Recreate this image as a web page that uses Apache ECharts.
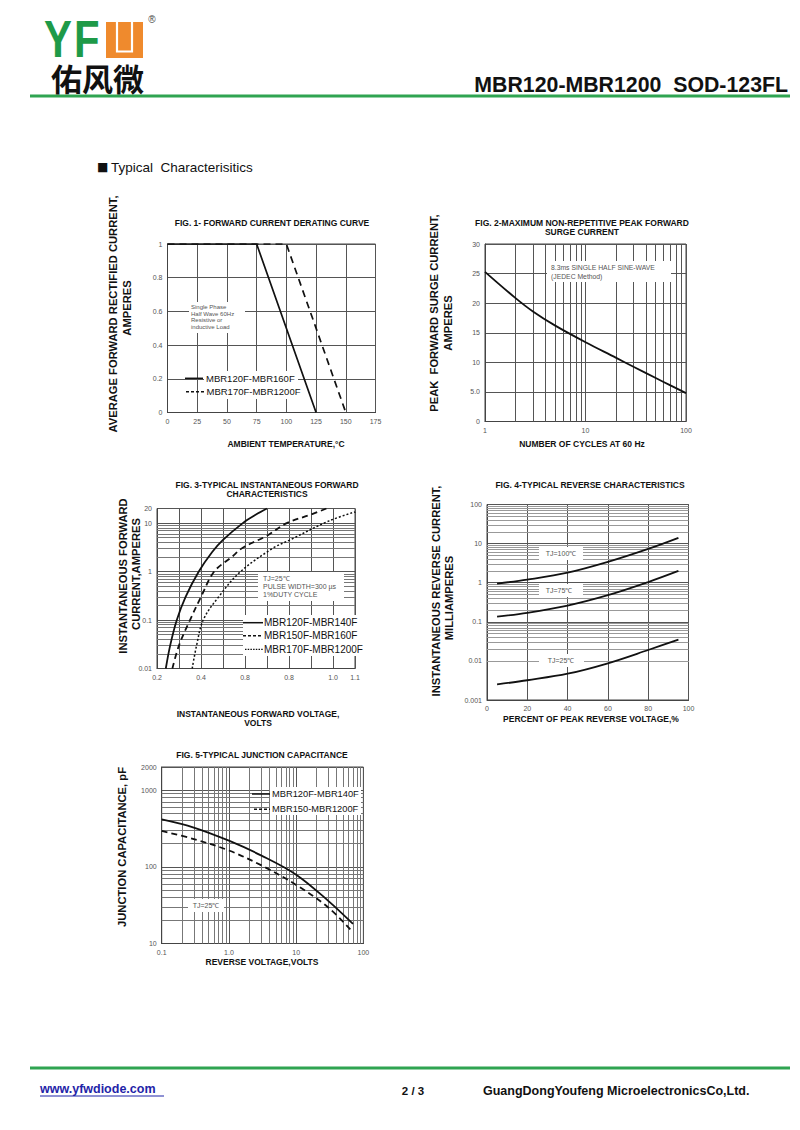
<!DOCTYPE html>
<html><head><meta charset="utf-8">
<script src="https://cdn.jsdelivr.net/npm/echarts@6/dist/echarts.min.js"></script>
<style>html,body{margin:0;padding:0;background:#fff}#c{width:800px;height:1130px}</style>
</head><body><div id="c"></div>
<script>
// ---------- DATA ----------
// Fig 1 derating
const derTempA = [0, 75, 125];
const derAmpA  = [1, 1, 0];
const derTempB = [0, 100, 150];
const derAmpB  = [1, 1, 0];
// Fig 2 surge
const surgeCycles = [1, 2, 3, 5, 10, 20, 30, 50, 70, 100];
const surgeAmps   = [25.3, 20.9, 18.6, 16.2, 13.4, 10.8, 9.25, 7.35, 6.1, 4.8];
const surgeXMinor = [2,3,4,5,6,7,8,9,20,30,40,50,60,70,80,90];
// Fig 3 forward characteristics
const fwdV1 = [0.24, 0.26, 0.29, 0.33, 0.39, 0.45, 0.50, 0.59, 0.65, 0.70];
const fwdI1 = [0.01, 0.03, 0.1, 0.3, 1, 2.5, 4.5, 10, 15, 20];
const fwdV2 = [0.27, 0.30, 0.35, 0.40, 0.46, 0.54, 0.59, 0.70, 0.79, 0.90, 0.97];
const fwdI2 = [0.01, 0.03, 0.1, 0.3, 1, 2, 3.1, 5.5, 10, 15, 20];
const fwdV3 = [0.36, 0.38, 0.41, 0.48, 0.58, 0.73, 0.80, 0.98, 1.10];
const fwdI3 = [0.01, 0.03, 0.1, 0.3, 1, 3.1, 4.4, 11, 17];
const fwdVTickLabels = ["0.2","","0.4","","0.8","","0.8","","1.0","1.1"];
const fwdYMinor = [0.02,0.03,0.04,0.05,0.06,0.07,0.08,0.09,0.2,0.3,0.4,0.5,0.6,0.7,0.8,0.9,2,3,4,5,6,7,8,9];
// Fig 4 reverse characteristics
const revPct  = [5, 20, 40, 60, 80, 95];
const rev100  = [0.95, 1.2, 1.8, 3.4, 7.3, 14];
const rev75   = [0.135, 0.17, 0.26, 0.48, 1.04, 2.0];
const rev25   = [0.0025, 0.0032, 0.0047, 0.0087, 0.019, 0.035];
const revYMinor = [0.002,0.003,0.004,0.005,0.006,0.007,0.008,0.009,0.02,0.03,0.04,0.05,0.06,0.07,0.08,0.09,0.2,0.3,0.4,0.5,0.6,0.7,0.8,0.9,2,3,4,5,6,7,8,9,20,30,40,50,60,70,80,90];
// Fig 5 junction capacitance
const capV      = [0.1, 0.3, 1, 3, 10, 30, 70];
const capSolid  = [414, 325, 219, 141, 79, 36, 18];
const capDashed = [293, 230, 163, 105, 58, 29.5, 14];
const capXMinor = [0.2,0.3,0.4,0.5,0.6,0.7,0.8,0.9,2,3,4,5,6,7,8,9,20,30,40,50,60,70,80,90];
const capYMinor = [20,30,40,50,60,70,80,90,200,300,400,500,600,700,800,900];
const capXLabels = {"0.1":"0.1","1":"1.0","10":"10","100":"100"};

// ---------- HELPERS ----------
const FA = "'Liberation Sans', Arial, Helvetica, sans-serif";
const g = [];
function txt(text, x, y, font, o) {
  o = o || {};
  g.push({type:'text', x:x, y:y, rotation:o.rot||0, scaleX:o.sx||1, z:o.z||10, silent:true,
    style:{text:text, font:font, fill:o.fill||'#111', textAlign:o.align||'center', textVerticalAlign:'middle'}});
}
function box(x, y, w, h) {
  g.push({type:'rect', shape:{x:x,y:y,width:w,height:h}, style:{fill:'#fff'}, z:3, silent:true});
}
function seg(x1, y1, x2, y2, w, dash, color) {
  g.push({type:'line', shape:{x1:x1,y1:y1,x2:x2,y2:y2}, style:{stroke:color||'#111', lineWidth:w||1.5, lineDash:dash||null}, z:10, silent:true});
}
function pairs(xs, ys){ return xs.map((x,i)=>[x, ys[i]]); }
function fmtNum(v){ return String(+(+v).toPrecision(6)); }

function axis(gi, type, extra) {
  return Object.assign({
    gridIndex: gi, type: type,
    axisLine:{show:true, lineStyle:{color:'#444', width:1}},
    axisTick:{show:false},
    splitLine:{show:true, lineStyle:{color:'#555', width:1}},
    axisLabel:{fontSize:7, color:'#555', fontFamily:FA, margin:5}
  }, extra);
}
function gridLines(i, xs, ys, color) {
  return {type:'line', xAxisIndex:i, yAxisIndex:i, data:[], silent:true, z:1,
    markLine:{silent:true, z:1, symbol:['none','none'], animation:false, label:{show:false},
      emphasis:{disabled:true}, lineStyle:{color:color, width:1, type:'solid'},
      data: xs.map(v=>({xAxis:v})).concat(ys.map(v=>({yAxis:v})))}};
}
function curve(i, data, dash, smooth, w) {
  return {type:'line', xAxisIndex:i, yAxisIndex:i, data:data, symbol:'none', z:5, silent:true,
    smooth: smooth ? 0.35 : false,
    lineStyle:{color:'#111', width:w||1.8, type:dash||'solid'}};
}

// ---------- PAGE DECORATION ----------
// logo
txt('Y', 44, 39.5, "bold 51px " + FA, {align:'left', sx:0.82, fill:'#1e9a48'});
txt('F', 74, 39.5, "bold 51px " + FA, {align:'left', sx:0.82, fill:'#1e9a48'});
g.push({type:'rect', shape:{x:106, y:22, width:37, height:36}, style:{fill:'#ef8a2d'}, z:5, silent:true});
g.push({type:'polyline', shape:{points:[[117,22],[117,51.5],[132,51.5],[132,22]]}, style:{stroke:'#fff', lineWidth:2.2, fill:null}, z:6, silent:true});
txt('®', 152, 19, "10px " + FA, {fill:'#444'});
txt('佑风微', 51, 77, "bold 31px 'Noto Sans CJK SC'", {align:'left', fill:'#111'});
txt('MBR120-MBR1200\u00a0 SOD-123FL', 788, 85, "bold 21.3px " + FA, {align:'right', fill:'#111'});
g.push({type:'rect', shape:{x:30, y:94.5, width:760, height:3}, style:{fill:'#2fa451'}, z:5, silent:true});
// section header
txt('■', 97, 167, "12px 'DejaVu Sans'", {align:'left', fill:'#111'});
txt('Typical\u00a0 Characterisitics', 111, 167, "13.5px " + FA, {align:'left', fill:'#111'});
// footer
g.push({type:'rect', shape:{x:30, y:1066.5, width:760, height:3}, style:{fill:'#2fa451'}, z:5, silent:true});
txt('www.yfwdiode.com', 40, 1089, "bold 12.5px " + FA, {align:'left', fill:'#1f24a8'});
seg(40, 1096, 164, 1096, 1, null, '#1f24a8');
txt('2 / 3', 413, 1091, "bold 11.5px " + FA, {fill:'#111'});
txt('GuangDongYoufeng MicroelectronicsCo,Ltd.', 483, 1091, "bold 12.5px " + FA, {align:'left', fill:'#111'});

// ---------- FIGURE TEXTS ----------
const TF = "bold 8.5px " + FA;
const YF = "bold 11.2px " + FA;
const LEG = "9.5px " + FA;
// Fig 1
txt('FIG. 1- FORWARD CURRENT DERATING CURVE', 272, 223, TF);
txt('AVERAGE FORWARD RECTIFIED CURRENT,', 113, 314, YF, {rot:Math.PI/2});
txt('AMPERES', 127, 308, YF, {rot:Math.PI/2});
txt('AMBIENT TEMPERATURE,°C', 286, 444, TF);
box(189, 302, 56, 31);
txt('Single Phase', 191, 307, "6px " + FA, {align:'left', fill:'#555'});
txt('Half Wave 60Hz', 191, 313.5, "6px " + FA, {align:'left', fill:'#555'});
txt('Resistive or', 191, 320, "6px " + FA, {align:'left', fill:'#555'});
txt('inductive Load', 191, 326.5, "6px " + FA, {align:'left', fill:'#555'});
box(204, 371, 94, 28);
seg(185, 378.3, 203, 378.3, 1.5);
txt('MBR120F-MBR160F', 206, 378.3, LEG, {align:'left'});
seg(186, 391.7, 204, 391.7, 1.5, [3,2]);
txt('MBR170F-MBR1200F', 206.5, 391.7, LEG, {align:'left'});
// Fig 2
txt('FIG. 2-MAXIMUM NON-REPETITIVE PEAK FORWARD', 582, 223, TF);
txt('SURGE CURRENT', 582, 232, TF);
txt('PEAK\u00a0 FORWARD SURGE CURRENT,', 434, 313, YF, {rot:Math.PI/2});
txt('AMPERES', 448, 323, YF, {rot:Math.PI/2});
txt('NUMBER OF CYCLES AT 60 Hz', 582, 444, TF);
box(547, 261, 124, 21);
txt('8.3ms SINGLE HALF SINE-WAVE', 551, 267.5, "6.8px " + FA, {align:'left', fill:'#555'});
txt('(JEDEC Method)', 551, 276, "6.8px " + FA, {align:'left', fill:'#555'});
// Fig 3
txt('FIG. 3-TYPICAL INSTANTANEOUS FORWARD', 267, 485, TF);
txt('CHARACTERISTICS', 267, 494, TF);
txt('INSTANTANEOUS FORWARD', 123, 576, YF, {rot:Math.PI/2});
txt('CURRENT,AMPERES', 136, 574, YF, {rot:Math.PI/2});
txt('INSTANTANEOUS FORWARD VOLTAGE,', 258, 713.5, TF);
txt('VOLTS', 258, 723, TF);
box(258, 572, 86, 29);
txt('TJ=25℃', 263, 578.3, "7px " + FA, {align:'left', fill:'#555'});
txt('PULSE WIDTH=300 µs', 263, 586.7, "7px " + FA, {align:'left', fill:'#555'});
txt('1%DUTY CYCLE', 263, 594.5, "7px " + FA, {align:'left', fill:'#555'});
box(243, 615, 117, 41);
seg(243, 622.7, 263, 622.7, 1.5);
txt('MBR120F-MBR140F', 264, 622.7, "10px " + FA, {align:'left'});
seg(243, 635.7, 263, 635.7, 1.5, [3,2]);
txt('MBR150F-MBR160F', 264, 635.7, "10px " + FA, {align:'left'});
seg(245, 649.3, 263, 649.3, 1.3, [1.5,1.2]);
txt('MBR170F-MBR1200F', 264, 649.3, "10px " + FA, {align:'left'});
// Fig 4
txt('FIG. 4-TYPICAL REVERSE CHARACTERISTICS', 590, 485, TF);
txt('INSTANTANEOUS REVERSE CURRENT,', 436, 591, YF, {rot:Math.PI/2});
txt('MILLIAMPERES', 449, 598, YF, {rot:Math.PI/2});
txt('PERCENT OF PEAK REVERSE VOLTAGE,%', 591, 719, TF);
box(539, 547, 44, 13);
txt('TJ=100℃', 561, 553.3, "7px " + FA, {fill:'#555'});
box(539, 584, 44, 13);
txt('TJ=75℃', 559, 590.7, "7px " + FA, {fill:'#555'});
box(539, 654, 45, 13);
txt('TJ=25℃', 561, 660.7, "7px " + FA, {fill:'#555'});
// Fig 5
txt('FIG. 5-TYPICAL JUNCTION CAPACITANCE', 262, 755, TF);
txt('JUNCTION CAPACITANCE, pF', 122, 847, YF, {rot:Math.PI/2});
txt('REVERSE VOLTAGE,VOLTS', 262, 962, TF);
box(270, 787, 91, 28);
seg(252, 794, 270, 794, 1.5);
txt('MBR120F-MBR140F', 272, 794, "9.3px " + FA, {align:'left'});
seg(254, 809.3, 270, 809.3, 1.5, [3,2]);
txt('MBR150-MBR1200F', 272, 809.3, "9.3px " + FA, {align:'left'});
box(188, 899, 36, 13);
txt('TJ=25℃', 206, 905.7, "7px " + FA, {fill:'#555'});

// ---------- CHART ----------
const chart = echarts.init(document.getElementById('c'), null, {renderer:'svg', width:800, height:1130});
const gridBase = {show:true, borderColor:'#444', borderWidth:1, backgroundColor:'transparent', containLabel:false};
const option = {
  animation:false,
  backgroundColor:'#fff',
  grid:[
    Object.assign({left:167.5, top:244, width:208, height:168.5}, gridBase),
    Object.assign({left:485, top:244, width:201, height:177.5}, gridBase),
    Object.assign({left:157, top:508.5, width:198, height:160}, gridBase),
    Object.assign({left:487, top:504.5, width:201.5, height:195.5}, gridBase),
    Object.assign({left:161.7, top:767, width:201.7, height:176.5}, gridBase)
  ],
  xAxis:[
    axis(0, 'value', {min:0, max:175, interval:25}),
    axis(1, 'log', {min:1, max:100, logBase:10, axisLabel:{fontSize:7, color:'#555', fontFamily:FA, margin:5, formatter:v=>fmtNum(v)}}),
    axis(2, 'value', {min:0.2, max:1.1, interval:0.1, axisLabel:{fontSize:7, color:'#555', fontFamily:FA, margin:5,
      formatter:v=>fwdVTickLabels[Math.round((v-0.2)*10)] || ''}}),
    axis(3, 'value', {min:0, max:100, interval:20}),
    axis(4, 'log', {min:0.1, max:100, logBase:10, axisLabel:{fontSize:7, color:'#555', fontFamily:FA, margin:5,
      formatter:v=>capXLabels[fmtNum(v)] || fmtNum(v)}})
  ],
  yAxis:[
    axis(0, 'value', {min:0, max:1, interval:0.2}),
    axis(1, 'value', {min:0, max:30, interval:5, axisLabel:{fontSize:7, color:'#555', fontFamily:FA, margin:5,
      formatter:v=> v===5 ? '5.0' : String(v)}}),
    axis(2, 'log', {min:0.01, max:20, logBase:10, axisLabel:{fontSize:7, color:'#555', fontFamily:FA, margin:5, formatter:v=>fmtNum(+(+v).toPrecision(3))}}),
    axis(3, 'log', {min:0.001, max:100, logBase:10, axisLabel:{fontSize:7, color:'#555', fontFamily:FA, margin:5, formatter:v=>fmtNum(v)}}),
    axis(4, 'log', {min:10, max:2000, logBase:10, axisLabel:{fontSize:7, color:'#555', fontFamily:FA, margin:5, formatter:v=>fmtNum(+(+v).toPrecision(3))}})
  ],
  series:[
    gridLines(1, surgeXMinor, [], '#555'),
    gridLines(2, [], fwdYMinor, '#777'),
    gridLines(3, [], revYMinor, '#999'),
    gridLines(4, capXMinor, capYMinor, '#777'),
    curve(0, pairs(derTempB, derAmpB), [7,5], false, 1.7),
    curve(0, pairs(derTempA, derAmpA), 'solid', false, 1.7),
    curve(1, pairs(surgeCycles, surgeAmps), 'solid', true),
    curve(2, pairs(fwdV1, fwdI1), 'solid', true),
    curve(2, pairs(fwdV2, fwdI2), [6,4], true),
    curve(2, pairs(fwdV3, fwdI3), [2,2], true, 1.5),
    curve(3, pairs(revPct, rev100), 'solid', true),
    curve(3, pairs(revPct, rev75), 'solid', true),
    curve(3, pairs(revPct, rev25), 'solid', true),
    curve(4, pairs(capV, capSolid), 'solid', true),
    curve(4, pairs(capV, capDashed), [6,4], true)
  ],
  graphic:{elements:g}
};
chart.setOption(option);
</script></body></html>
